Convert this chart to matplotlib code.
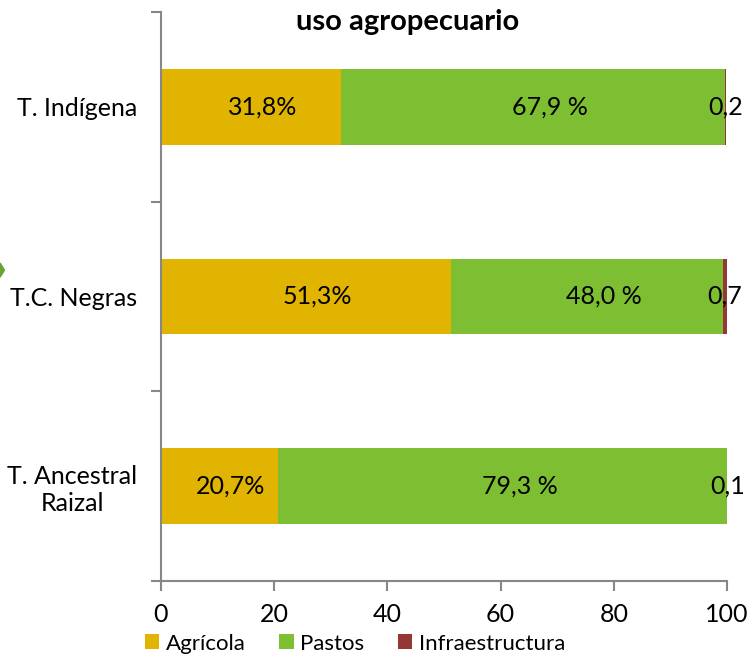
import matplotlib.pyplot as plt
import numpy as np

plt.rcParams['font.family'] = ['Lato', 'DejaVu Sans']

categorias = ['T. Indígena', 'T.C. Negras', 'T. Ancestral\nRaizal']
agricola = [31.8, 51.3, 20.7]
pastos = [67.9, 48.0, 79.3]
infraestructura = [0.2, 0.7, 0.1]
etiq_agricola = ['31,8%', '51,3%', '20,7%']
etiq_pastos = ['67,9 %', '48,0 %', '79,3 %']
etiq_infra = ['0,2', '0,7', '0,1']

c_agr = '#E0B400'
c_pas = '#7DBE32'
c_inf = '#953735'
gris = '#878787'

fig = plt.figure(figsize=(7.48, 6.54), dpi=100)
ax = fig.add_axes([0.2152, 0.1116, 0.972 - 0.2152, 0.9817 - 0.1116])

y = np.arange(len(categorias))
h = 0.40
ax.barh(y, agricola, height=h, color=c_agr, label='Agrícola')
ax.barh(y, pastos, height=h, left=agricola, color=c_pas, label='Pastos')
izq = np.array(agricola) + np.array(pastos)
ax.barh(y, infraestructura, height=h, left=izq, color=c_inf, label='Infraestructura')

# etiquetas dentro de las barras (algo corridas a la derecha, como en excel)
for i in range(len(categorias)):
    ax.text(agricola[i] / 2 + 2, y[i], etiq_agricola[i], ha='center', va='center', fontsize=18)
    ax.text(agricola[i] + pastos[i] / 2 + 3, y[i], etiq_pastos[i], ha='center', va='center', fontsize=18)
    ax.text(izq[i] + infraestructura[i] / 2, y[i], etiq_infra[i], ha='center', va='center',
            fontsize=18, clip_on=False)

ax.set_xlim(0, 100)
ax.set_ylim(2.5, -0.5)
ax.set_xticks([0, 20, 40, 60, 80, 100])
ax.tick_params(axis='x', labelsize=18, length=7, width=1.5, color=gris, pad=9)

ax.set_yticks(y)
ax.set_yticklabels(categorias, fontsize=18, ha='right', multialignment='center')
ax.tick_params(axis='y', which='major', length=0, pad=17)
ax.set_yticks([-0.5, 0.5, 1.5, 2.5], minor=True)
ax.tick_params(axis='y', which='minor', length=7, width=1.5, color=gris)

for s in ['top', 'right']:
    ax.spines[s].set_visible(False)
for s in ['left', 'bottom']:
    ax.spines[s].set_color(gris)
    ax.spines[s].set_linewidth(1.5)

fig.text(0.545, 0.966, 'uso agropecuario', ha='center', va='center', fontsize=21, fontweight='bold')

fig.legend(loc='lower left', bbox_to_anchor=(0.167, -0.03), ncol=3, frameon=False,
           fontsize=16, handlelength=0.65, handleheight=0.65, handletextpad=0.3, columnspacing=1.5)

# flecha verde recortada en el borde izquierdo
fig.patches.append(plt.Polygon([[0.0, 0.598], [0.006, 0.587], [0.0, 0.576]],
                               closed=True, transform=fig.transFigure, color='#6AA332'))

fig.savefig('out.png', dpi=100)
